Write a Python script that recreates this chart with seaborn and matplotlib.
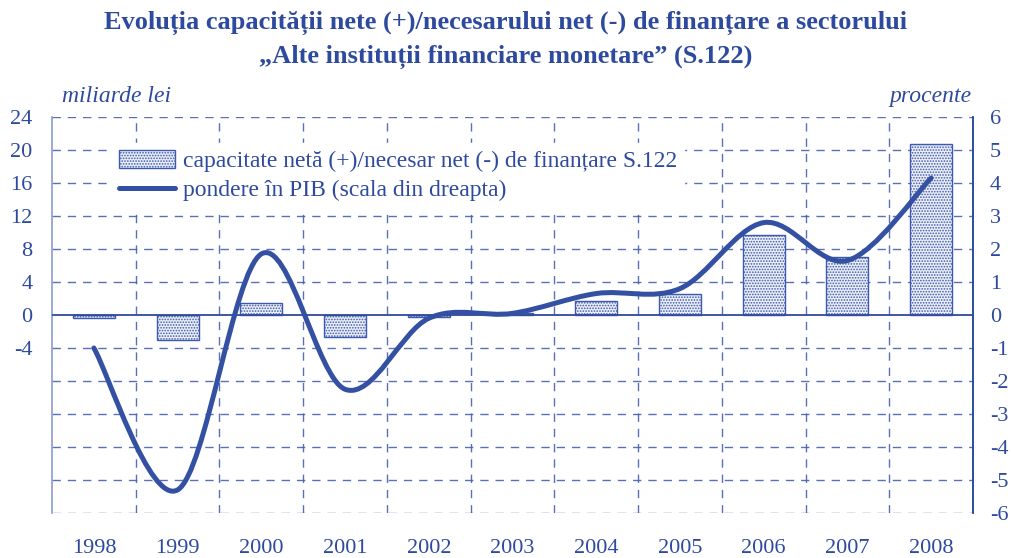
import numpy as np
import pandas as pd
import matplotlib
matplotlib.use("Agg")
import matplotlib.pyplot as plt
import seaborn as sns
from matplotlib.path import Path
from matplotlib.patches import PathPatch, Patch
from matplotlib.lines import Line2D

years = ["1998", "1999", "2000", "2001", "2002", "2003", "2004", "2005", "2006", "2007", "2008"]
capacitate = [-0.4, -3.0, 1.4, -2.7, -0.2, 0.2, 1.7, 2.6, 9.7, 7.0, 20.7]
pondere = [-1.0, -5.3, 1.85, -2.25, -0.1, 0.05, 0.65, 0.8, 2.8, 1.65, 4.15]

left_ticks = [24, 20, 16, 12, 8, 4, 0, -4, -8, -12, -16, -20, -24]
left_labels = ["24", "20", "16", "12", "8", "4", "0", "-4", "", "", "", "", ""]
right_ticks = [6, 5, 4, 3, 2, 1, 0, -1, -2, -3, -4, -5, -6]

BLUE = "#2E4A9E"
GRID = "#4560B0"

sns.set_style("white")
plt.rcParams["font.family"] = ["Liberation Serif", "DejaVu Serif"]
plt.rcParams["hatch.color"] = "#3D5AAE"
plt.rcParams["hatch.linewidth"] = 0.8

fig = plt.figure(figsize=(10.12, 5.58), dpi=100)
ax = fig.add_axes([52/1012, 1-513/558, (973-52)/1012, (513-117)/558])

df = pd.DataFrame({"an": years, "val": capacitate})
sns.barplot(data=df, x="an", y="val", ax=ax, color="#E9EDF8", width=0.5,
            edgecolor="#3D5AAE", linewidth=1.0, zorder=3)
for p in ax.patches:
    p.set_hatch("......")
    p.set_zorder(3)

ax.set_xlim(-0.5, len(years) - 0.5)
ax.set_ylim(-24, 24)
ax.set_yticks(left_ticks)
ax.set_yticklabels(left_labels)
ax.set_xlabel("")
ax.set_ylabel("")

# gridlines
for y in left_ticks:
    if y == 0:
        continue
    ax.axhline(y, color=GRID, lw=1.0, ls=(0, (6, 5)), zorder=1, alpha=0.9)
for k in range(1, len(years)):
    ax.axvline(k - 0.5, color=GRID, lw=1.0, ls=(0, (6, 5)), zorder=1, alpha=0.9)
ax.axhline(0, color=BLUE, lw=1.3, zorder=4)

for s in ["top", "bottom"]:
    ax.spines[s].set_visible(False)
ax.spines["left"].set_color("#8A9BD0")
ax.spines["left"].set_linewidth(1.2)
ax.spines["right"].set_color(BLUE)
ax.spines["right"].set_linewidth(1.2)

ax.tick_params(axis="x", length=0, pad=19, labelsize=16, labelcolor=BLUE)
ax.tick_params(axis="y", length=0, pad=14, labelsize=16, labelcolor=BLUE)

ax2 = ax.twinx()
ax2.set_ylim(-6, 6)
ax2.set_yticks(right_ticks)
ax2.set_yticklabels([str(t) for t in right_ticks])
ax2.tick_params(axis="y", length=0, pad=12, labelsize=16, labelcolor=BLUE)
for s in ["top", "bottom", "left"]:
    ax2.spines[s].set_visible(False)
ax2.spines["right"].set_color(BLUE)
ax2.spines["right"].set_linewidth(1.2)

# smoothed line (Bezier through data points, Excel-style smoothing)
xs = np.arange(len(pondere), dtype=float)
ys = np.array(pondere, dtype=float)
pts = np.column_stack([xs, ys])
verts = [tuple(pts[0])]
codes = [Path.MOVETO]
n = len(pts)
for i in range(n - 1):
    p0 = pts[i - 1] if i > 0 else pts[i]
    p1 = pts[i]
    p2 = pts[i + 1]
    p3 = pts[i + 2] if i + 2 < n else pts[i + 1]
    c1 = p1 + (p2 - p0) / 6.0
    c2 = p2 - (p3 - p1) / 6.0
    verts += [tuple(c1), tuple(c2), tuple(p2)]
    codes += [Path.CURVE4] * 3
ax2.add_patch(PathPatch(Path(verts, codes), facecolor="none", edgecolor="#3450A3",
                        lw=3.6, capstyle="round", joinstyle="round", zorder=5))

# legend
handles = [Patch(facecolor="#E9EDF8", edgecolor="#3D5AAE", hatch="......", lw=1.0),
           Line2D([0], [0], color="#3450A3", lw=3.6, solid_capstyle="round")]
labels = ["capacitate netă (+)/necesar net (-) de finanțare S.122",
          "pondere în PIB (scala din dreapta)"]
leg = ax2.legend(handles, labels, loc="upper left", bbox_to_anchor=(0.052, 0.965),
                 frameon=True, fontsize=17, labelcolor=BLUE, handlelength=2.4,
                 handleheight=0.8, handletextpad=0.3, borderpad=0.3, labelspacing=0.3,
                 fancybox=False, edgecolor="white", facecolor="white", framealpha=1.0)
leg.set_zorder(10)

fig.text(0.5, 1 - 23/558, "Evoluția capacității nete (+)/necesarului net (-) de finanțare a sectorului",
         ha="center", va="center", fontsize=19, fontweight="bold", color=BLUE)
fig.text(0.5, 1 - 57/558, "„Alte instituții financiare monetare” (S.122)",
         ha="center", va="center", fontsize=19, fontweight="bold", color=BLUE)
fig.text(62/1012, 1 - 96/558, "miliarde lei", ha="left", va="center",
         fontsize=17, style="italic", color=BLUE)
fig.text(972/1012, 1 - 96/558, "procente", ha="right", va="center",
         fontsize=17, style="italic", color=BLUE)

fig.savefig("out.png", dpi=100)
